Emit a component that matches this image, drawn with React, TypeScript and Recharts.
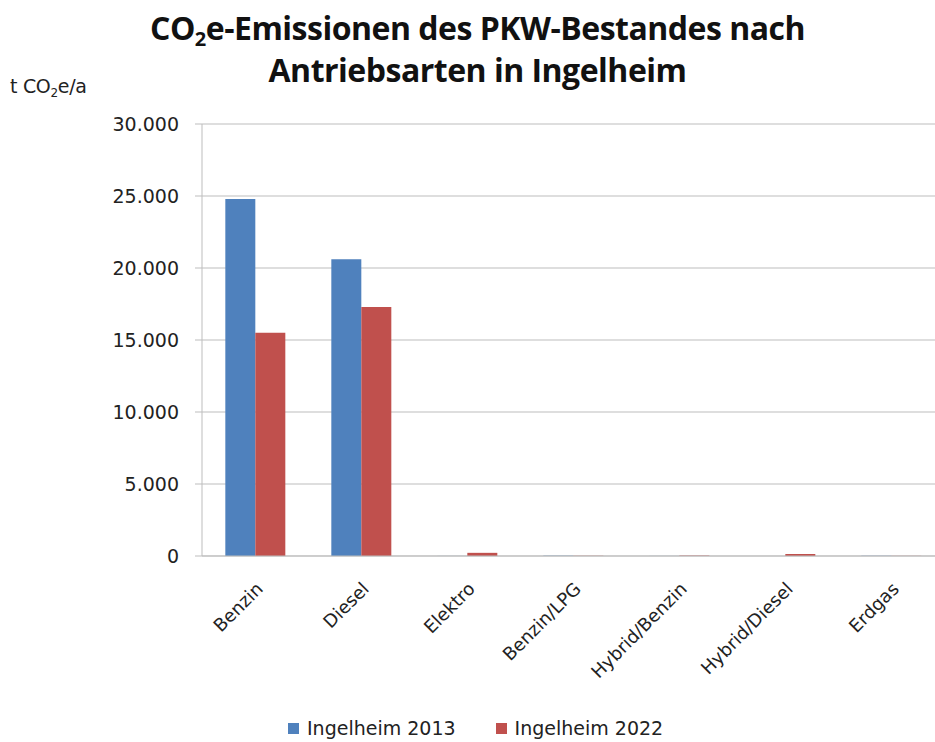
import React from "react";
import { Bar, BarChart, CartesianGrid, XAxis, YAxis } from "recharts";

const categories = [
	"Benzin",
	"Diesel",
	"Elektro",
	"Benzin/LPG",
	"Hybrid/Benzin",
	"Hybrid/Diesel",
	"Erdgas",
];
const ingelheim2013 = [24800, 20600, 5, 20, 5, 0, 15];
const ingelheim2022 = [15500, 17300, 220, 15, 30, 140, 10];
const yTicks = [0, 5000, 10000, 15000, 20000, 25000, 30000];

const seriesNames = ["Ingelheim 2013", "Ingelheim 2022"];
const seriesColors = ["#4f81bd", "#c0504d"];

const data = categories.map((name, i) => ({
	name,
	a: ingelheim2013[i],
	b: ingelheim2022[i],
}));

const fmt = (v: number) =>
	v === 0 ? "0" : v.toLocaleString("de-DE", { maximumFractionDigits: 0 });

export default function App() {
	return (
		<div
			style={{
				position: "fixed",
				left: 0,
				top: 0,
				width: 935,
				height: 742,
				overflow: "hidden",
				background: "#fff",
				fontFamily: "DejaVu Sans",
			}}
		>
			<div
				style={{
					position: "absolute",
					left: 0,
					width: 955,
					top: 7,
					textAlign: "center",
					fontFamily: "Open Sans",
					fontWeight: 700,
					fontSize: 32,
					lineHeight: "42px",
					letterSpacing: -0.5,
					color: "#111",
				}}
			>
				<div>
					CO<sub style={{ fontSize: 20, verticalAlign: -6, lineHeight: 0 }}>2</sub>
					e-Emissionen des PKW-Bestandes nach
				</div>
				<div>Antriebsarten in Ingelheim</div>
			</div>
			<div
				style={{
					position: "absolute",
					left: 10,
					top: 75,
					fontSize: 19,
					color: "#222",
					letterSpacing: -0.3,
				}}
			>
				t CO<sub style={{ fontSize: 12, verticalAlign: -4, lineHeight: 0 }}>2</sub>e/a
			</div>
			<BarChart
				width={960}
				height={742}
				data={data}
				margin={{ top: 124, right: 16, left: 0, bottom: 36 }}
				barCategoryGap="22%"
				barGap={0}
			>
				<CartesianGrid vertical={false} stroke="#bdbdbd" />
				<XAxis
					dataKey="name"
					interval={0}
					height={150}
					angle={-45}
					textAnchor="end"
					tickLine={false}
					tickSize={6}
					tickMargin={19}
					axisLine={{ stroke: "#bdbdbd" }}
					tick={{ fontSize: 18, fill: "#222", fontFamily: "DejaVu Sans" }}
				/>
				<YAxis
					width={202}
					domain={[0, 30000]}
					ticks={yTicks}
					tickFormatter={fmt}
					tickSize={7}
					tickMargin={16}
					tickLine={{ stroke: "#bdbdbd" }}
					axisLine={{ stroke: "#bdbdbd" }}
					tick={{ fontSize: 19, fill: "#222", fontFamily: "DejaVu Sans" }}
				/>
				<Bar
					dataKey="a"
					name={seriesNames[0]}
					fill={seriesColors[0]}
					isAnimationActive={false}
				/>
				<Bar
					dataKey="b"
					name={seriesNames[1]}
					fill={seriesColors[1]}
					isAnimationActive={false}
				/>
			</BarChart>
			<div
				style={{
					position: "absolute",
					left: 288,
					top: 715,
					display: "flex",
					gap: 40,
					fontSize: 19,
					color: "#222",
					lineHeight: "26px",
				}}
			>
				{seriesNames.map((n, i) => (
					<div key={n} style={{ display: "flex", alignItems: "center" }}>
						<span
							style={{
								width: 11,
								height: 11,
								background: seriesColors[i],
								marginRight: 8,
								display: "inline-block",
							}}
						/>
						{n}
					</div>
				))}
			</div>
		</div>
	);
}
